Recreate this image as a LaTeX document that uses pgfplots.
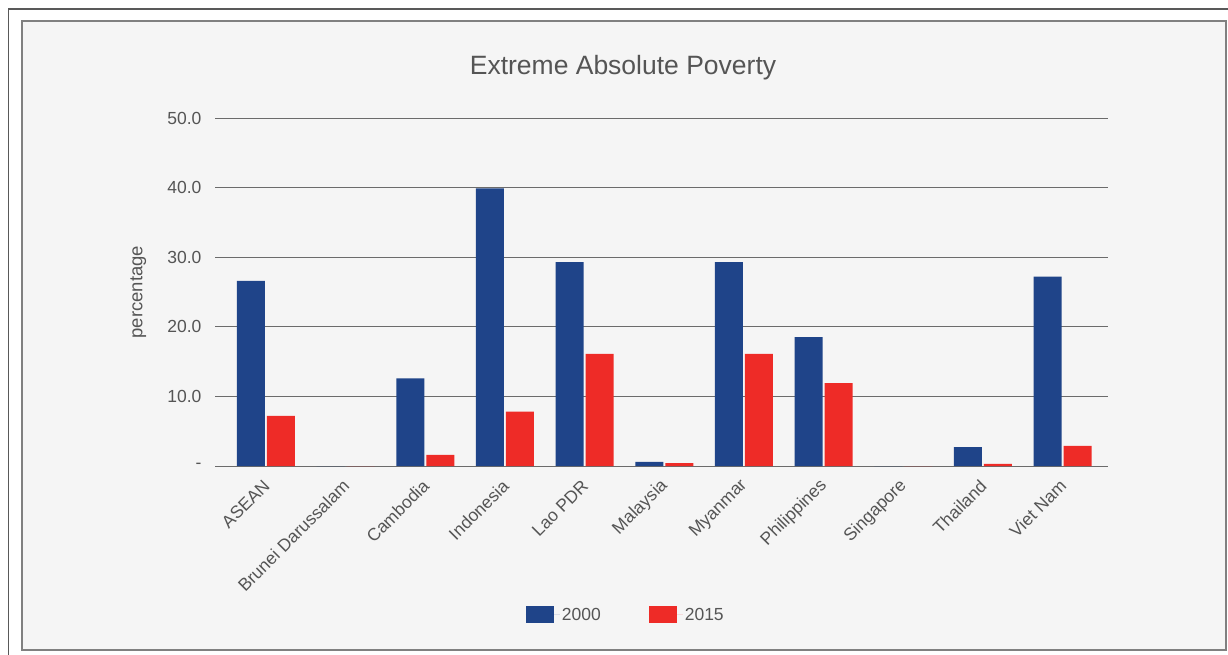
\documentclass[border=0pt]{standalone}
\usepackage{pgfplots}
\pgfplotsset{compat=1.18}
\usepackage{pgfplotstable}
\usepackage{fontspec}
\setmainfont{Liberation Sans}
\definecolor{bblue}{HTML}{1F4489}
\definecolor{rred}{HTML}{EE2B27}
\definecolor{txt}{HTML}{555555}
\definecolor{bg}{HTML}{F5F5F5}
\pgfplotstableread{
x y2000 y2015
0 26.6 7.2
1 0 0
2 12.6 1.6
3 39.9 7.8
4 29.3 16.1
5 0.6 0.4
6 29.3 16.1
7 18.5 11.9
8 0 0
9 2.7 0.3
10 27.2 2.9
}\datatable
\begin{document}
\begin{tikzpicture}
\useasboundingbox (0pt,0pt) rectangle (1228pt,-655pt);
\fill[white] (0pt,0pt) rectangle (1228pt,-655pt);
\draw[line width=1.2pt, color=black!65] (8.5pt,-655pt) -- (8.5pt,-9pt) -- (1228pt,-9pt);
\filldraw[fill=bg, draw=black!50, line width=1.5pt] (22pt,-21pt) rectangle (1226pt,-650pt);
\node[font=\fontsize{26.5}{30}\selectfont, text=txt] at (623pt,-68pt) {Extreme Absolute Poverty};
\begin{axis}[
  at={(215pt,-466pt)}, anchor=south west,
  scale only axis, width=893pt, height=348pt,
  ybar=2pt, bar width=28pt,
  ymin=0, ymax=50, xmin=-0.64, xmax=10.57,
  axis line style={draw=none},
  major tick length=0pt,
  ytick={10,20,30,40,50},
  yticklabels={10.0,20.0,30.0,40.0,50.0},
  extra y ticks={0}, extra y tick labels={-},
  extra y tick style={grid style={color=black!38, line width=1.6pt}},
  ymajorgrids,
  major grid style={color=black!58, line width=1pt},
  yticklabel style={font=\fontsize{17.5}{20}\selectfont, text=txt, anchor=east, xshift=-10pt},
  xtick={0,...,10},
  xticklabels={ASEAN, Brunei Darussalam, Cambodia, Indonesia, Lao PDR, Malaysia, Myanmar, Philippines, Singapore, Thailand, Viet Nam},
  xticklabel style={font=\fontsize{17.5}{20}\selectfont, text=txt, xshift=3pt, yshift=-14.5pt, rotate=45, anchor=east},
  ylabel={percentage},
  ylabel style={at={(axis description cs:-0.086,0.5)}, anchor=center, font=\fontsize{18.5}{20}\selectfont, text=txt},
  legend style={at={(0.46,-0.428)}, anchor=center, draw=none, fill=none,
    legend columns=2, font=\fontsize{17.5}{20}\selectfont, text=txt,
    /tikz/every even column/.append style={column sep=46pt}},
  legend image code/.code={\path (0pt,0pt) -- (34pt,0pt);\fill[#1] (0pt,-8.5pt) rectangle (28pt,8.5pt);},
]
\addplot[fill=bblue, draw=none] table[x=x, y=y2000] {\datatable};
\addplot[fill=rred, draw=none] table[x=x, y=y2015] {\datatable};
\legend{2000,2015}
\end{axis}
\end{tikzpicture}
\end{document}
